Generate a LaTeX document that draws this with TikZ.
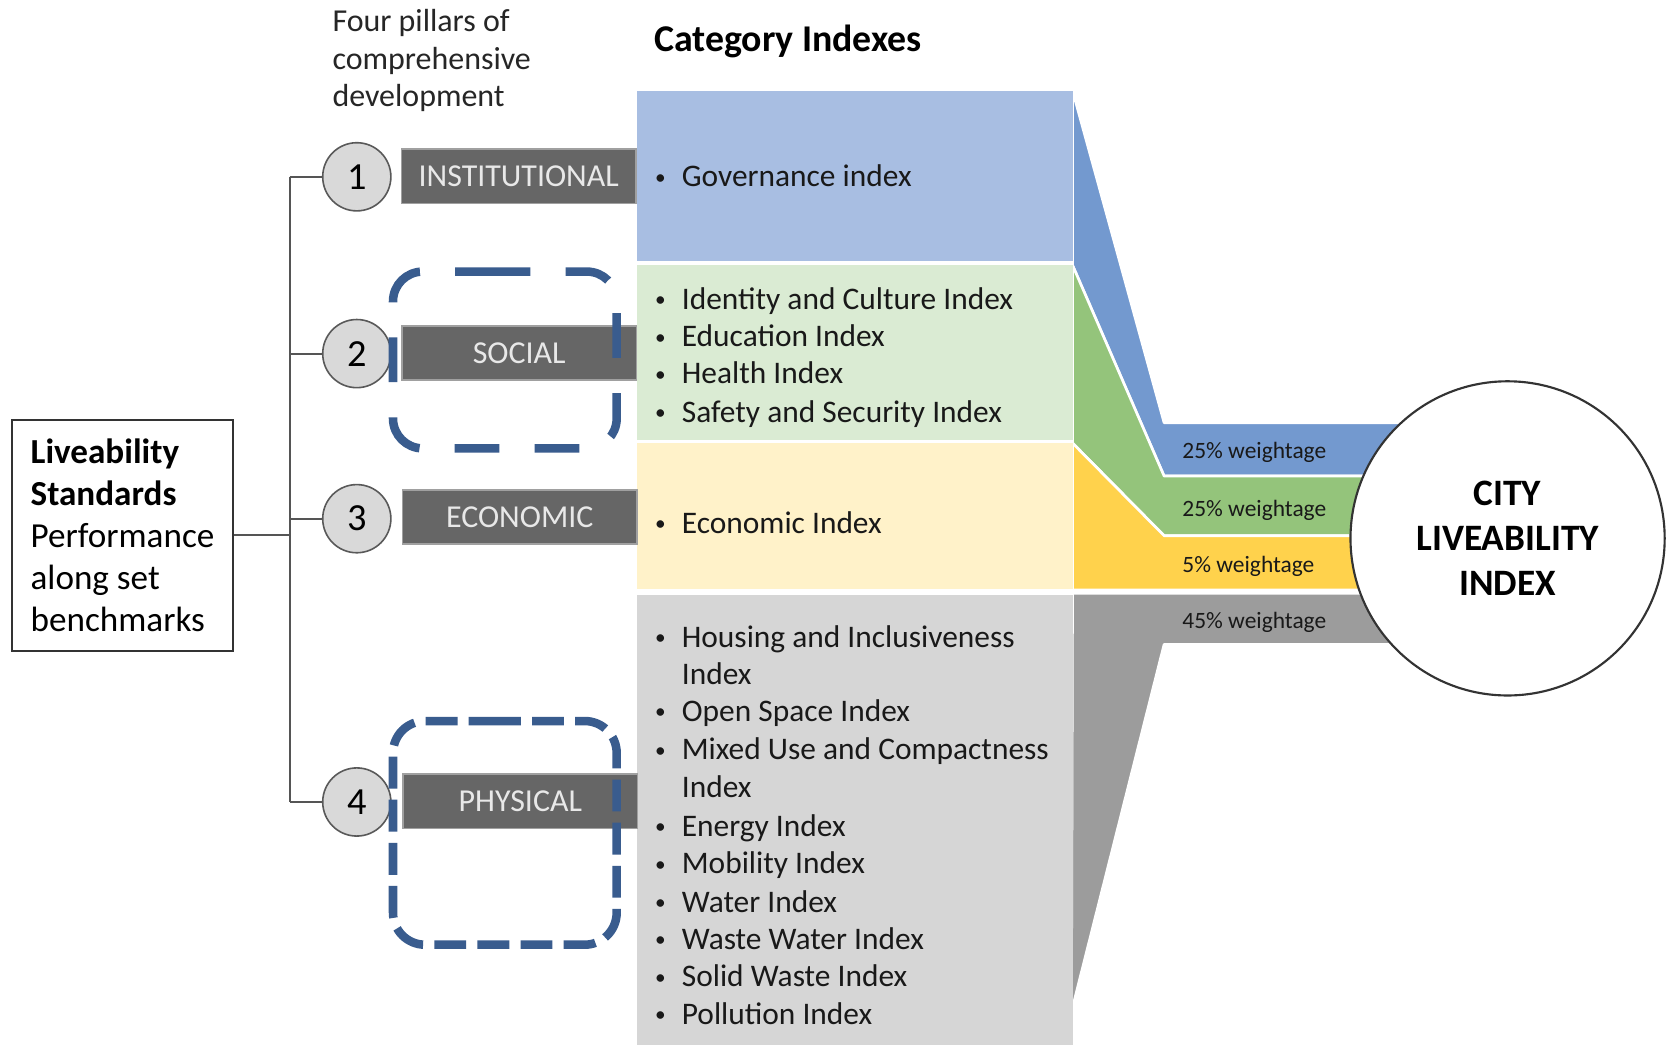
\documentclass[tikz,border=0pt]{standalone}
\usepackage{fontspec}
\setmainfont{Carlito}
\definecolor{blueL}{HTML}{A8BEE2}
\definecolor{blueD}{HTML}{7399CF}
\definecolor{greenL}{HTML}{DAEBD3}
\definecolor{greenD}{HTML}{94C47B}
\definecolor{yelL}{HTML}{FFF2C9}
\definecolor{yelD}{HTML}{FFD24C}
\definecolor{grayL}{HTML}{D6D6D6}
\definecolor{grayD}{HTML}{9C9C9C}
\definecolor{pillarfill}{HTML}{666666}
\definecolor{pillaredge}{HTML}{A0A0A0}
\definecolor{pillartext}{HTML}{E8E8E8}
\definecolor{numfill}{HTML}{D9D9D9}
\definecolor{numedge}{HTML}{595959}
\definecolor{treecol}{HTML}{555555}
\definecolor{dashblue}{HTML}{395C8E}
\newcommand\bl{\makebox[25pt][l]{\raisebox{2.5pt}{\fontsize{20}{20}\selectfont\textbullet}}}
\newcommand\bi{\makebox[25pt][l]{}}
\begin{document}
\begin{tikzpicture}[x=1pt,y=-1pt,
  every node/.style={inner sep=0pt},
  idx/.style={anchor=west, font=\fontsize{29.5}{34}\selectfont, text height=25pt, text depth=6pt, text=black!90},
  pillar/.style={fill=pillarfill, draw=pillaredge, line width=1.5pt, minimum width=220pt, minimum height=51pt, text=pillartext, font=\fontsize{30}{34}\selectfont},
  num/.style={circle, fill=numfill, draw=numedge, line width=1.5pt, minimum size=64pt, font=\fontsize{36}{40}\selectfont},
  tree/.style={draw=treecol, line width=2pt},
  dboxa/.style={draw=dashblue, line width=8pt, dash pattern=on 42pt off 33pt, rounded corners=28pt},
  dboxb/.style={draw=dashblue, line width=8pt, dash pattern=on 30pt off 10.5pt, rounded corners=30pt},
  wt/.style={anchor=west, font=\fontsize{22}{24}\selectfont, text=black!90},
  ribbon/.style={draw=white, line width=2.5pt, line join=round},
  block/.style={anchor=north west, minimum width=409pt}
]
\fill[white] (0,0) rectangle (1568,981);
\useasboundingbox (0,0) rectangle (1568,981);

% ribbons
\filldraw[ribbon, fill=blueD] (1007,85) -- (1093,397) -- (1345,397) -- (1345,447) -- (1093,447) -- (1007,249) -- cycle;
\filldraw[ribbon, fill=greenD] (1007,249) -- (1093,447) -- (1345,447) -- (1345,503) -- (1093,503) -- (1007,416) -- cycle;
\filldraw[ribbon, fill=yelD] (1007,416) -- (1093,503) -- (1345,503) -- (1345,554) -- (1007,554) -- cycle;
\filldraw[ribbon, fill=grayD] (1007,557) -- (1345,557) -- (1345,605) -- (1093,605) -- (1006,950) -- cycle;

% category blocks
\node[block, fill=blueL, minimum height=160pt] (bb) at (598,85) {};
\node[block, fill=greenL, minimum height=164pt] (gb) at (598,249) {};
\node[block, fill=yelL, minimum height=137pt] (yb) at (598,416) {};
\node[block, fill=grayL, minimum height=424pt] (rb) at (598,558) {};

% headers
\node[anchor=west, align=left, font=\fontsize{30}{35}\selectfont, text=black!85] (fp) at (312,57) {Four pillars of\\comprehensive\\development};
\node[anchor=west, font=\bfseries\fontsize{35.5}{40}\selectfont] (ci) at (614,39) {Category Indexes};

% index lists
\node[idx] (bi1) at (615,166) {\bl Governance index};
\foreach \y/\t [count=\i] in {281/\bl Identity and Culture Index, 316/\bl Education Index, 351/\bl Health Index, 387/\bl Safety and Security Index}
  \node[idx] (gi\i) at (615,\y) {\t};
\node[idx] (yi1) at (615,491) {\bl Economic Index};
\foreach \y/\t [count=\i] in {598/\bl Housing and Inclusiveness, 633/\bi Index, 668/\bl Open Space Index, 704/\bl Mixed Use and Compactness, 739/\bi Index, 776/\bl Energy Index, 811/\bl Mobility Index, 847/\bl Water Index, 882/\bl Waste Water Index, 917/\bl Solid Waste Index, 952/\bl Pollution Index}
  \node[idx] (ri\i) at (615,\y) {\t};

% weightage labels
\node[wt] (w1) at (1110,425) {25\% weightage};
\node[wt] (w2) at (1110,479) {25\% weightage};
\node[wt] (w3) at (1110,532) {5\% weightage};
\node[wt] (w4) at (1110,584) {45\% weightage};

% city index circle
\node[circle, draw=black!80, line width=2pt, fill=white, minimum size=295pt, align=center, font=\bfseries\fontsize{35}{42}\selectfont] (cli) at (1415.5,505.5) {CITY\\LIVEABILITY\\INDEX};

% liveability standards box
\node[draw=black!80, line width=2pt, minimum width=208pt, minimum height=217pt, align=left, font=\fontsize{33}{39.5}\selectfont] (lsb) at (115,502.5) {\textbf{Liveability}\\\textbf{Standards}\\Performance\\along set\\benchmarks};

% pillar circles and boxes
\node[num] (c1) at (335,166) {1};
\node[num] (c2) at (335,332) {2};
\node[num] (c3) at (335,487) {3};
\node[num] (c4) at (335,753) {4};
\node[pillar] (p1) at (487,165.5) {INSTITUTIONAL};
\node[pillar] (p2) at (487.5,331.5) {SOCIAL};
\node[pillar] (p3) at (488,485.5) {ECONOMIC};
\node[pillar] (p4) at (488.5,752.5) {PHYSICAL};

% tree connectors
\coordinate (jn) at (272,502.5);
\draw[tree] (lsb.east) -- (jn);
\draw[tree] (c1.west -| jn) -- (c4.west -| jn);
\foreach \c in {c1,c2,c3,c4}
  \draw[tree] (\c.west -| jn) -- (\c.west);

% dashed highlight boxes
\draw[dboxa] (428,255) -- (579,255) -- (579,421) -- (369,421) -- (369,255) -- cycle;
\draw[dboxb] (429,677) -- (579,677) -- (579,887) -- (369,887) -- (369,677) -- cycle;
\end{tikzpicture}
\end{document}
